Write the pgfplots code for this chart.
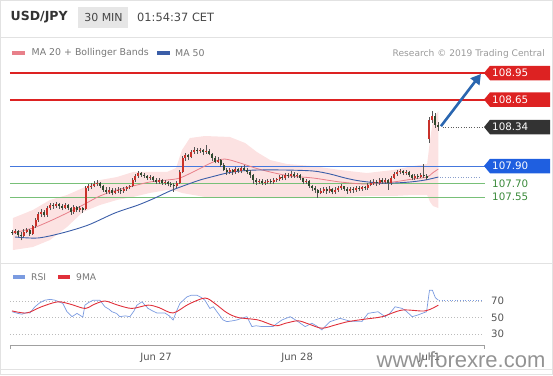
\documentclass[border=0pt]{standalone}
\usepackage{pgfplots}
\pgfplotsset{compat=1.18}
\usepackage{pgfplotstable}
\usetikzlibrary{arrows.meta}
\usepackage{fontspec}
\setmainfont{DejaVu Sans}
\newfontfamily\wmfont{Liberation Sans}
\newcommand{\fs}[1]{\fontsize{#1}{#1}\selectfont}

\definecolor{hdrtxt}{HTML}{333333}
\definecolor{hdrbox}{HTML}{E6E6E6}
\definecolor{legtxt}{HTML}{777777}
\definecolor{restxt}{HTML}{9A9A9A}
\definecolor{lvlred}{HTML}{DD2222}
\definecolor{lvlblue}{HTML}{4477DD}
\definecolor{tagblue}{HTML}{1F5FE0}
\definecolor{lvlgreen}{HTML}{78C078}
\definecolor{txtgreen}{HTML}{3A8A3A}
\definecolor{tagdark}{HTML}{333333}
\definecolor{bandfill}{HTML}{FCE2E2}
\definecolor{maredd}{HTML}{E8808A}
\definecolor{mablue}{HTML}{3B5EA8}
\definecolor{candleup}{HTML}{C8312A}
\definecolor{candledn}{HTML}{2E4A2E}
\definecolor{wick}{HTML}{555555}
\definecolor{arrowblue}{HTML}{2A66B0}
\definecolor{rsiblue}{HTML}{7B9BE0}
\definecolor{rsired}{HTML}{E0303A}
\definecolor{gridgray}{HTML}{BBBBBB}
\definecolor{axisgray}{HTML}{A0A0A0}
\definecolor{labelgray}{HTML}{555555}
\definecolor{framegray}{HTML}{E2E2E2}

\pgfplotstableread{
i o h l c
0 107.16 107.18 107.12 107.14
1 107.14 107.19 107.13 107.17
2 107.17 107.18 107.10 107.12
3 107.12 107.15 107.06 107.11
4 107.11 107.19 107.10 107.16
5 107.16 107.20 107.14 107.18
6 107.18 107.19 107.11 107.13
7 107.13 107.24 107.12 107.22
8 107.22 107.31 107.20 107.29
9 107.29 107.38 107.27 107.36
10 107.36 107.42 107.33 107.38
11 107.38 107.40 107.32 107.35
12 107.35 107.45 107.33 107.43
13 107.43 107.48 107.40 107.46
14 107.46 107.48 107.42 107.45
15 107.45 107.49 107.43 107.47
16 107.47 107.48 107.42 107.45
17 107.45 107.47 107.40 107.43
18 107.43 107.48 107.41 107.46
19 107.46 107.47 107.40 107.43
20 107.43 107.44 107.35 107.38
21 107.38 107.46 107.36 107.44
22 107.44 107.45 107.38 107.40
23 107.40 107.45 107.38 107.43
24 107.43 107.44 107.37 107.40
25 107.41 107.67 107.40 107.65
26 107.65 107.70 107.62 107.67
27 107.67 107.71 107.64 107.68
28 107.68 107.73 107.66 107.70
29 107.70 107.74 107.68 107.71
30 107.71 107.72 107.65 107.67
31 107.67 107.69 107.61 107.63
32 107.63 107.66 107.58 107.61
33 107.61 107.66 107.59 107.63
34 107.63 107.65 107.57 107.60
35 107.60 107.65 107.58 107.62
36 107.62 107.66 107.60 107.63
37 107.63 107.65 107.59 107.62
38 107.62 107.66 107.60 107.64
39 107.64 107.68 107.62 107.66
40 107.66 107.69 107.64 107.67
41 107.67 107.76 107.66 107.74
42 107.74 107.81 107.72 107.79
43 107.79 107.84 107.77 107.82
44 107.82 107.83 107.78 107.80
45 107.80 107.82 107.77 107.79
46 107.79 107.80 107.74 107.76
47 107.76 107.80 107.74 107.78
48 107.78 107.79 107.72 107.74
49 107.74 107.76 107.70 107.72
50 107.72 107.76 107.70 107.74
51 107.74 107.75 107.69 107.71
52 107.71 107.74 107.69 107.72
53 107.72 107.73 107.67 107.70
54 107.70 107.72 107.66 107.69
55 107.69 107.71 107.61 107.67
56 107.67 107.73 107.65 107.71
57 107.71 107.85 107.70 107.83
58 107.83 108.01 107.82 107.99
59 107.99 108.05 107.96 108.02
60 108.02 108.04 107.97 108.00
61 108.00 108.08 107.99 108.06
62 108.06 108.11 108.04 108.08
63 108.08 108.10 108.04 108.07
64 108.07 108.10 108.05 108.08
65 108.08 108.09 108.03 108.06
66 108.06 108.14 108.04 108.07
67 108.07 108.09 108.02 108.04
68 108.04 108.05 107.96 107.99
69 107.99 108.01 107.93 107.95
70 107.95 108.00 107.93 107.97
71 107.97 107.98 107.89 107.91
72 107.91 107.93 107.84 107.86
73 107.86 107.88 107.80 107.83
74 107.83 107.88 107.81 107.86
75 107.86 107.87 107.80 107.83
76 107.83 107.89 107.81 107.87
77 107.87 107.88 107.82 107.84
78 107.84 107.90 107.82 107.88
79 107.88 107.91 107.84 107.86
80 107.86 107.88 107.81 107.83
81 107.83 107.85 107.77 107.80
82 107.80 107.81 107.70 107.74
83 107.74 107.76 107.69 107.72
84 107.72 107.75 107.70 107.73
85 107.73 107.75 107.69 107.71
86 107.71 107.74 107.69 107.72
87 107.72 107.75 107.70 107.73
88 107.73 107.75 107.70 107.72
89 107.72 107.76 107.70 107.74
90 107.74 107.77 107.72 107.75
91 107.75 107.80 107.73 107.78
92 107.78 107.80 107.74 107.76
93 107.76 107.82 107.74 107.80
94 107.80 107.82 107.77 107.79
95 107.79 107.84 107.77 107.81
96 107.81 107.83 107.77 107.79
97 107.79 107.82 107.77 107.80
98 107.80 107.81 107.74 107.76
99 107.76 107.77 107.70 107.72
100 107.72 107.75 107.70 107.73
101 107.73 107.74 107.65 107.67
102 107.67 107.69 107.62 107.65
103 107.65 107.67 107.60 107.63
104 107.63 107.64 107.54 107.60
105 107.60 107.65 107.58 107.62
106 107.62 107.66 107.60 107.64
107 107.64 107.66 107.59 107.62
108 107.62 107.67 107.60 107.64
109 107.64 107.65 107.58 107.61
110 107.61 107.66 107.59 107.63
111 107.63 107.67 107.61 107.65
112 107.65 107.70 107.63 107.67
113 107.67 107.68 107.62 107.64
114 107.64 107.66 107.59 107.62
115 107.62 107.66 107.60 107.64
116 107.64 107.66 107.60 107.63
117 107.63 107.67 107.61 107.65
118 107.65 107.67 107.62 107.64
119 107.64 107.68 107.62 107.66
120 107.66 107.68 107.63 107.65
121 107.65 107.71 107.63 107.69
122 107.69 107.74 107.67 107.71
123 107.71 107.75 107.69 107.72
124 107.72 107.74 107.68 107.71
125 107.71 107.77 107.69 107.74
126 107.74 107.76 107.70 107.72
127 107.72 107.77 107.70 107.74
128 107.74 107.75 107.63 107.71
129 107.71 107.79 107.69 107.77
130 107.77 107.83 107.75 107.81
131 107.81 107.86 107.79 107.83
132 107.83 107.87 107.81 107.84
133 107.84 107.86 107.80 107.82
134 107.82 107.85 107.80 107.83
135 107.83 107.84 107.78 107.80
136 107.80 107.81 107.74 107.76
137 107.76 107.81 107.74 107.79
138 107.79 107.81 107.75 107.78
139 107.78 107.82 107.76 107.80
140 107.80 107.92 107.77 107.79
141 107.79 107.81 107.74 107.76
142 108.20 108.45 108.16 108.42
143 108.42 108.52 108.39 108.47
144 108.47 108.50 108.33 108.36
145 108.36 108.40 108.30 108.34
}\candles

% Bollinger band outline: upper band left to right, then lower band right to left
\pgfplotstableread{
i v
0.3 107.313
7.1 107.404
12.9 107.517
18.7 107.573
24.1 107.652
29.9 107.742
35.7 107.776
41.2 107.833
46.9 107.833
52.7 107.833
55.8 107.878
57.8 108.081
60.5 108.216
65.6 108.239
74.1 108.228
79.3 108.160
83.3 108.058
87.8 107.968
93.5 107.923
102.4 107.900
111.6 107.855
120.7 107.821
129.6 107.855
136.4 107.900
141.2 107.923
142.2 108.200
143.2 108.420
145 108.520
145 107.426
143.2 107.449
142.2 107.494
141.2 107.573
136.4 107.573
129.6 107.562
120.7 107.562
111.6 107.551
102.4 107.539
93.5 107.539
87.8 107.539
83.3 107.539
79.3 107.545
74.1 107.551
65.6 107.551
60.5 107.580
57.8 107.596
55.8 107.620
52.7 107.629
46.9 107.596
41.2 107.551
35.7 107.517
29.9 107.460
24.1 107.381
18.7 107.212
12.9 107.065
7.1 106.986
0.3 106.952
}\band

\pgfplotstableread{
i v
0.3 107.144
7.1 107.200
12.9 107.279
18.7 107.370
24.1 107.460
29.9 107.562
35.7 107.629
41.2 107.675
46.9 107.720
52.7 107.742
57.1 107.765
62.9 107.855
68.4 107.945
72.4 107.979
77.6 107.934
82.7 107.878
87.8 107.833
94.6 107.787
102.4 107.765
111.6 107.720
120.7 107.697
129.6 107.720
136.4 107.754
141.2 107.776
143 107.821
145 107.866
}\maTwenty

\pgfplotstableread{
i v
1.0 107.099
8.8 107.088
17.0 107.144
25.9 107.234
35.0 107.370
42.9 107.460
48.6 107.539
53.7 107.618
58.2 107.675
63.9 107.742
69.0 107.787
73.1 107.821
77.6 107.844
83.3 107.855
92.9 107.855
102.4 107.844
108.2 107.810
113.3 107.765
118.4 107.731
125.2 107.708
129.6 107.708
135.4 107.720
140.5 107.742
145 107.776
}\maFifty

\pgfplotstableread{
i v
0 57
2 55
3.4 54
5 56
6.1 55.5
7.8 63
9.5 68
11.2 71
13 72
14.6 71
16 69
17.3 67
18.7 57
20.4 51
22.1 55
24.1 50.5
24.8 65
26 68
27.6 71
29.9 71
31.6 63
33 60
34 57
35.5 55
36.7 51
38.5 52
40.1 51
41.5 58
42.5 65
44.2 69
46.3 61
47.8 58
49.3 55.5
52.0 55.5
53.5 52
54.8 47
56 58
57.1 67
59.5 75
61 77
62.9 77
64.5 74
65.6 71
67.3 61
68.5 63
69.7 57
71.8 47
73.1 45
75 46
76.5 47
78 49
79.9 51
81.6 39
83 40
85.0 39
88.8 39
90.2 43
91.8 47
94.6 51
96 48
97.3 45
99.7 39
102.0 43
103.5 40
105.4 35
107 41
108.2 45
111.6 49
113.5 47
115.6 45
119.0 45
121.1 55
124.5 57
126.9 51
128.5 55
130.3 63
132.7 61
134 58
136.1 51
138 53
139.5 55
141 57
142 83
143 83
144 74
145 71
}\rsi

\pgfplotstableread{
i v
0 58
5 55.5
10 63
15.6 69
20 66
24.8 61
28 66
31.6 70
36 65
40.8 61
46.3 65
50 62
54.8 55.5
60 66
65.6 73.6
69 67
73 56
76.9 50
83.7 47
89.5 40
93 43
97.3 46
101 42
105.4 37
110 41
114.3 45
120 48
125.9 51
132.7 59
140.5 58
145 65
}\rsima

\pgfplotstableread{
x a b e f g
-0.68 108.95 108.65 107.90 107.70 107.55
160.88 108.95 108.65 107.90 107.70 107.55
}\levels

\newcommand{\pricetag}[3]{%
  \fill[#2] ([xshift=-1pt]#1) -- ++(6pt,7.25pt) -- ++(60pt,0pt) -- ++(0pt,-14.5pt) -- ++(-60pt,0pt) -- cycle;
  \node[anchor=west, inner sep=0pt, text=white, font=\fs{10.3}] at ([xshift=7pt]#1) {#3};}

\begin{document}
\begin{tikzpicture}
\draw[framegray, line width=0.8pt] (0.4pt,0.4pt) rectangle (552.6pt,374.6pt);
\draw[framegray, line width=0.6pt] (0pt,338pt) -- (553pt,338pt);
\draw[framegray, line width=0.6pt] (0pt,112pt) -- (553pt,112pt);
\draw[framegray, line width=0.6pt] (0pt,5.5pt) -- (553pt,5.5pt);

% header
\node[anchor=west, inner sep=0pt, text=hdrtxt, font=\fs{12.5}\bfseries] at (10.5pt,358pt) {USD/JPY};
\fill[hdrbox] (78pt,347pt) rectangle (128pt,368pt);
\node[inner sep=0pt, text=hdrtxt!90, font=\fs{11}] at (103.5pt,357.6pt) {30 MIN};
\node[anchor=west, inner sep=0pt, text=hdrtxt!90, font=\fs{11.4}] at (137pt,357.6pt) {01:54:37 CET};

% legend
\fill[maredd] (12pt,320.3pt) rectangle (24.5pt,324.2pt);
\node[anchor=west, inner sep=0pt, text=legtxt, font=\fs{9.4}] at (31.5pt,322pt) {MA 20 + Bollinger Bands};
\fill[mablue] (157pt,320.3pt) rectangle (169.5pt,324.2pt);
\node[anchor=west, inner sep=0pt, text=legtxt, font=\fs{9.4}] at (175pt,322pt) {MA 50};
\node[anchor=east, inner sep=0pt, text=restxt, font=\fs{9.1}] at (545pt,321.3pt) {Research \textcopyright{} 2019 Trading Central};

% main price axis
\begin{axis}[at={(10pt,123.02pt)}, anchor=south west, scale only axis,
  width=475pt, height=192.26pt,
  xmin=-0.68, xmax=160.88, ymin=106.93, ymax=109.10,
  enlargelimits=false, axis lines=none, clip=false]
  \addplot[draw=none, fill=bandfill, forget plot] table[x=i,y=v] {\band};

  \addplot[color=lvlred, line width=2pt, mark=none] table[x=x,y=a] {\levels};
  \addplot[color=lvlred, line width=2pt, mark=none] table[x=x,y=b] {\levels};
  \addplot[color=lvlblue, line width=1pt, mark=none] table[x=x,y=e] {\levels};
  \addplot[color=lvlgreen, line width=0.9pt, mark=none] table[x=x,y=f] {\levels};
  \addplot[color=lvlgreen, line width=0.9pt, mark=none] table[x=x,y=g] {\levels};

  \addplot[color=maredd, line width=0.8pt, mark=none, smooth] table[x=i,y=v] {\maTwenty};
  \addplot[color=mablue, line width=0.9pt, mark=none, smooth] table[x=i,y=v] {\maFifty};
  \addplot[color=mablue!60, line width=0.8pt, mark=none, dash pattern=on 1pt off 1.6pt] coordinates {(145.5,107.776) (159.5,107.776)};

  % wicks: segment from low to high
  \addplot[color=wick, line width=0.6pt, mark=none,
    quiver={u=0, v=\thisrow{h}-\thisrow{l}}]
    table[x=i, y=l] {\candles};
  % bodies of rising candles: from open to close
  \addplot[color=candleup, line width=2pt, mark=none,
    restrict expr to domain={\thisrow{c}-\thisrow{o}}{0:10},
    quiver={u=0, v=\thisrow{c}-\thisrow{o}}]
    table[x=i, y=o] {\candles};
  % bodies of falling candles
  \addplot[color=candledn, line width=2pt, mark=none,
    restrict expr to domain={\thisrow{o}-\thisrow{c}}{0.0001:10},
    quiver={u=0, v=\thisrow{c}-\thisrow{o}}]
    table[x=i, y=o] {\candles};

  \addplot[color=tagdark!80, line width=0.8pt, mark=none, dash pattern=on 1pt off 1.6pt] coordinates {(146.5,108.34) (160.5,108.34)};
  \addplot[color=arrowblue, fill=arrowblue, line width=2.6pt, mark=none, -{Triangle[length=10pt, width=11pt]}] coordinates {(145.9,108.35) (159.5,108.94)};

  \coordinate (T1) at (axis cs:160.88,108.95);
  \coordinate (T2) at (axis cs:160.88,108.65);
  \coordinate (T3) at (axis cs:160.88,108.34);
  \coordinate (T4) at (axis cs:160.88,107.90);
  \coordinate (T5) at (axis cs:160.88,107.70);
  \coordinate (T6) at (axis cs:160.88,107.55);
\end{axis}

\pricetag{T1}{lvlred}{108.95}
\pricetag{T2}{lvlred}{108.65}
\pricetag{T3}{tagdark}{108.34}
\pricetag{T4}{tagblue}{107.90}
\node[anchor=west, inner sep=0pt, text=txtgreen, font=\fs{10.3}] at ([xshift=7pt]T5) {107.70};
\node[anchor=west, inner sep=0pt, text=txtgreen, font=\fs{10.3}] at ([xshift=7pt]T6) {107.55};

% RSI legend
\fill[rsiblue] (13pt,96.4pt) rectangle (25pt,99.6pt);
\node[anchor=west, inner sep=0pt, text=legtxt, font=\fs{9.2}] at (31pt,98pt) {RSI};
\fill[rsired] (58pt,96.4pt) rectangle (70pt,99.6pt);
\node[anchor=west, inner sep=0pt, text=legtxt, font=\fs{9.2}] at (76pt,98pt) {9MA};

% RSI axis
\begin{axis}[at={(10pt,30pt)}, anchor=south west, scale only axis,
  width=475pt, height=64.62pt,
  xmin=-0.68, xmax=160.88, ymin=16.67, ymax=95,
  enlargelimits=false, clip=false,
  axis x line=bottom, axis y line=none,
  x axis line style={draw=axisgray, line width=0.9pt, -},
  xtick={49,97,142}, xticklabels={Jun 27, Jun 28, Jul 1},
  major tick length=0pt,
  xticklabel style={anchor=base, yshift=-15pt, font=\fs{10}, text=labelgray}]
  \addplot[color=gridgray, line width=0.8pt, mark=none, dash pattern=on 1pt off 2pt] coordinates {(-0.68,70) (160.2,70)};
  \addplot[color=gridgray, line width=0.8pt, mark=none, dash pattern=on 1pt off 2pt] coordinates {(-0.68,50) (160.2,50)};
  \addplot[color=gridgray, line width=0.8pt, mark=none, dash pattern=on 1pt off 2pt] coordinates {(-0.68,30) (160.2,30)};
  \addplot[color=rsiblue, line width=0.7pt, mark=none] table[x=i,y=v] {\rsi};
  \addplot[color=rsiblue, line width=0.8pt, mark=none, dash pattern=on 1pt off 1.6pt] coordinates {(145.3,71) (159.5,71)};
  \addplot[color=rsired, line width=0.9pt, mark=none, smooth] table[x=i,y=v] {\rsima};
  \node[anchor=west, inner sep=0pt, text=labelgray, font=\fs{10.2}, xshift=6pt] at (axis cs:160.88,70) {70};
  \node[anchor=west, inner sep=0pt, text=labelgray, font=\fs{10.2}, xshift=6pt] at (axis cs:160.88,50) {50};
  \node[anchor=west, inner sep=0pt, text=labelgray, font=\fs{10.2}, xshift=6pt] at (axis cs:160.88,30) {30};
\end{axis}
\draw[axisgray, line width=0.9pt] (10pt,30pt) -- (10pt,26pt);
\draw[axisgray, line width=0.9pt] (484.5pt,30pt) -- (484.5pt,26pt);

% watermark
\node[anchor=base, inner sep=0pt, text=black!50, opacity=0.85, font=\wmfont\fs{22}] at (461pt,8pt) {www.forexre.com};

\pgfresetboundingbox
\path[use as bounding box] (0pt,0pt) rectangle (553pt,375pt);
\end{tikzpicture}
\end{document}
